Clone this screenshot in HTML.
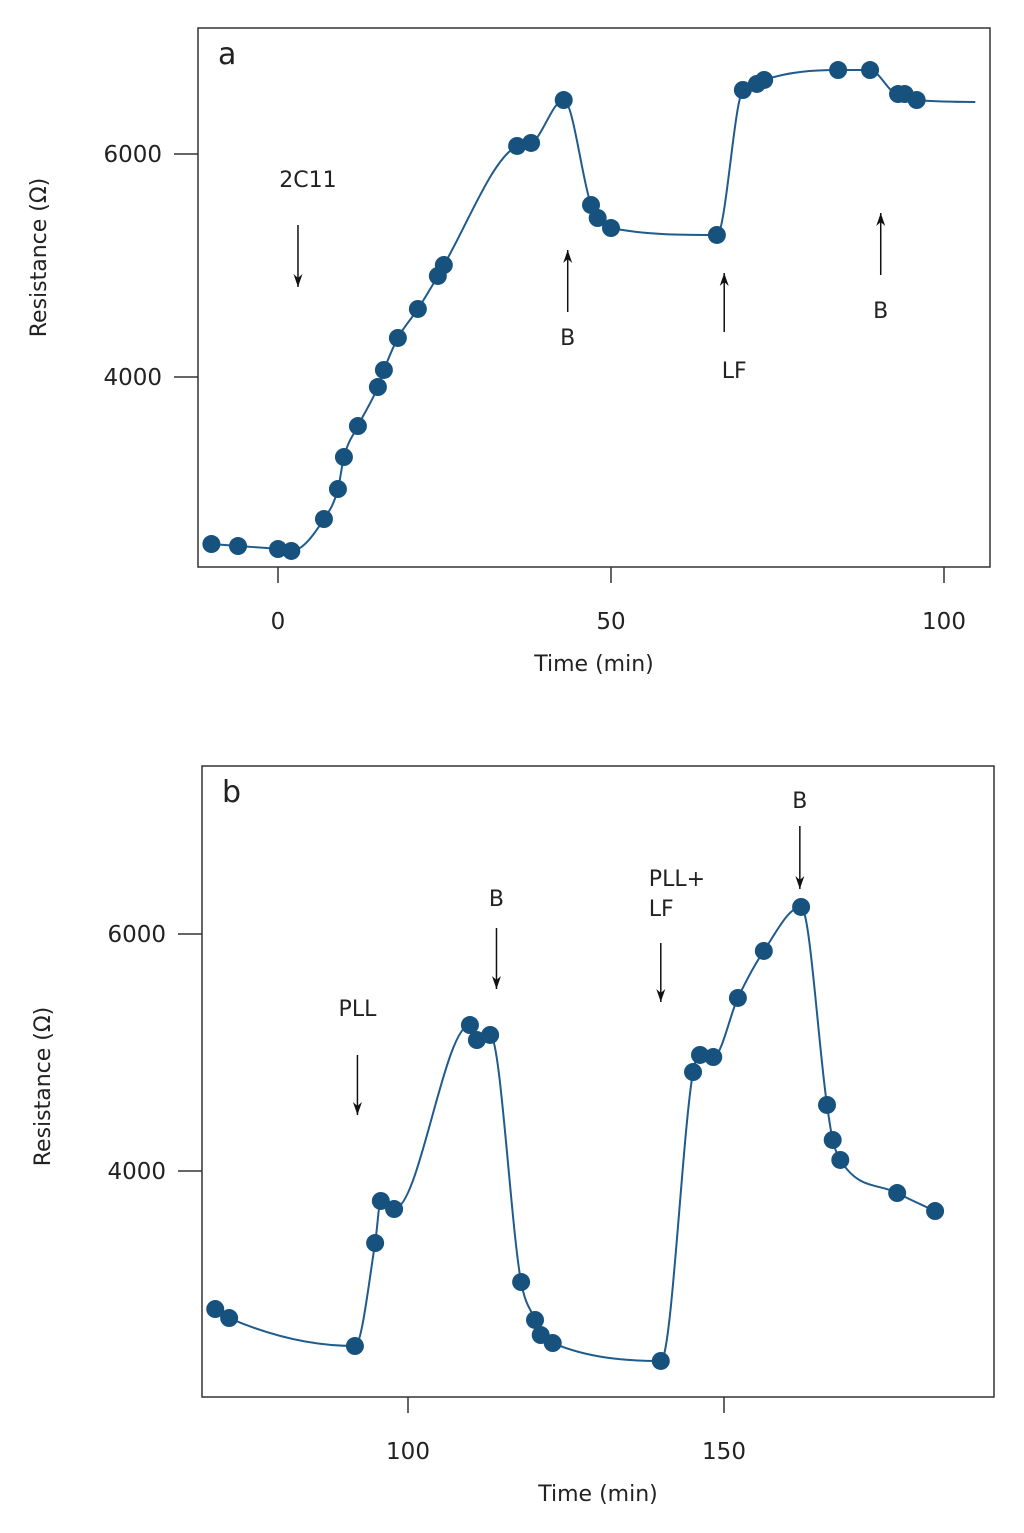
<!DOCTYPE html>
<html><head><meta charset="utf-8"><style>
body{margin:0;background:#fff;}
svg{display:block;font-family:"DejaVu Sans","Liberation Sans",sans-serif;}
</style></head><body>
<svg id="chart" width="1024" height="1533">
</svg>
<script>
const tA=[-10,-6,0,2,6.9,9,9.9,12,15,15.9,18,21,24,24.9,35.9,38,42.9,47,48,50,65.9,69.8,71.9,73,84.1,88.9,93.1,94.1,95.9];
const rA=[2502,2484,2457,2440,2726,2995,3282,3560,3910,4063,4350,4610,4906,5004,6072,6099,6484,5543,5426,5336,5274,6574,6628,6664,6753,6753,6538,6538,6484];
const tailA=[104.7,6466];
const tB=[69.5,71.7,91.6,94.8,95.7,97.8,109.8,110.9,113,117.9,120.1,121,122.9,140,145.1,146.2,148.3,152.2,156.3,162.2,166.3,167.2,168.4,177.4,183.4];
const rB=[2835,2759,2523,3392,3747,3679,5232,5105,5148,3063,2743,2616,2548,2397,4835,4979,4962,5460,5857,6228,4557,4262,4093,3814,3662];
const xticksA=[0,50,100], xticksB=[100,150], yticks=[4000,6000];
const annA=[["2C11",3,"down"],["B",43.5,"up"],["LF",67,"up"],["B",90.5,"up"]];
const annB=[["PLL",92,"down"],["B",114,"down"],["PLL+\nLF",140,"down"],["B",162,"down"]];

const svg=document.getElementById('chart');
const NS='http://www.w3.org/2000/svg';
function mk(tag,attrs,parent){const e=document.createElementNS(NS,tag);for(const k in attrs)e.setAttribute(k,attrs[k]);(parent||svg).appendChild(e);return e;}
function txt(s,x,y,size,anchor,parent){const e=mk('text',{x:x,y:y,'font-size':size,'text-anchor':anchor||'middle',fill:'#222'},parent);e.textContent=s;return e;}
function monotonePath(p){
 const n=p.length,d=[],m=new Array(n);
 for(let i=0;i<n-1;i++)d.push((p[i+1][1]-p[i][1])/(p[i+1][0]-p[i][0]));
 m[0]=d[0];m[n-1]=d[n-2];
 for(let i=1;i<n-1;i++){m[i]=(d[i-1]*d[i]<=0)?0:(d[i-1]+d[i])/2;}
 for(let i=0;i<n-1;i++){if(d[i]===0){m[i]=0;m[i+1]=0;continue;}const a=m[i]/d[i],b=m[i+1]/d[i],s=a*a+b*b;if(s>9){const t=3/Math.sqrt(s);m[i]=t*a*d[i];m[i+1]=t*b*d[i];}}
 let s='M'+p[0][0]+','+p[0][1];
 for(let i=0;i<n-1;i++){const h=(p[i+1][0]-p[i][0])/3;
  s+=` C${p[i][0]+h},${p[i][1]+m[i]*h} ${p[i+1][0]-h},${p[i+1][1]-m[i+1]*h} ${p[i+1][0]},${p[i+1][1]}`;}
 return s;}

function panel(cfg){
 const g=mk('g',{});
 
 
 const X=t=>cfg.x0+(t-cfg.t0)*cfg.sx, Y=v=>cfg.y0-(v-cfg.v0)*cfg.sy;
 const fr=mk('rect',{x:cfg.box[0],y:cfg.box[1],width:cfg.box[2]-cfg.box[0],height:cfg.box[3]-cfg.box[1],fill:'none',stroke:'#333','stroke-width':1.5},g);
 
 cfg.xt.forEach(t=>{const l=mk('line',{x1:X(t),x2:X(t),y1:cfg.box[3],y2:cfg.box[3]+16,stroke:'#333','stroke-width':1.5},g);
  
  const tx=txt(String(t),X(t),cfg.box[3]+62,23,'middle',g);});
 yticks.forEach(v=>{const l=mk('line',{x1:cfg.box[0]-24,x2:cfg.box[0],y1:Y(v),y2:Y(v),stroke:'#333','stroke-width':1.5},g);
  
  const tx=txt(String(v),cfg.box[0]-36,Y(v)+8,23,'end',g);});
 const xl=txt('Time (min)',(cfg.box[0]+cfg.box[2])/2,cfg.box[3]+104,22,'middle',g);
 const yc=(cfg.box[1]+cfg.box[3])/2+ (cfg.ylOff||0);
 const yl=txt('Resistance (Ω)',0,0,22,'middle',g);yl.setAttribute('transform',`translate(${cfg.box[0]-152},${yc}) rotate(-90)`);
 
 const pl=txt(cfg.label,cfg.box[0]+20,cfg.box[1]+36,30,'start',g);
 const pts=cfg.t.map((t,i)=>[X(t),Y(cfg.r[i])]);
 if(cfg.tail)pts.push([X(cfg.tail[0]),Y(cfg.tail[1])]);
 const ln=mk('path',{d:monotonePath(pts),fill:'none',stroke:'#1f5b8c','stroke-width':2},g);
 
 cfg.t.forEach((t,i)=>{const c=mk('circle',{cx:X(t),cy:Y(cfg.r[i]),r:9,fill:'#17527f'},g);
  });
 cfg.ann.forEach((a,i)=>{const pos=cfg.annPos[i];const x=X(a[1]);
  const ar=mk('line',{x1:x,x2:x,y1:pos.a1,y2:pos.a2,stroke:'#111','stroke-width':1.5},g);
  
  const dir=pos.a2>pos.a1?1:-1,tip=pos.a2;
  const hd=mk('polygon',{points:`${x},${tip} ${x-4.5},${tip-dir*13} ${x},${tip-dir*9} ${x+4.5},${tip-dir*13}`,fill:'#111'},g);
  
  a[0].split('\n').forEach((s,j)=>{const tx=txt(s,x+(pos.dx||0),pos.ty+j*30,22,pos.anchor||'middle',g);
   });});
}
panel({name:'panel-a',label:'a',box:[198,28,990,567],x0:278,t0:0,sx:6.66,y0:154,v0:6000,sy:0.11150,xt:xticksA,t:tA,r:rA,tail:tailA,ann:annA,ylOff:-40,
 annPos:[{a1:225,a2:287,ty:187,dx:10},{a1:312,a2:250,ty:345},{a1:332,a2:273,ty:378,dx:10},{a1:275,a2:213,ty:318}]});
panel({name:'panel-b',label:'b',box:[202,766,994,1397],x0:408,t0:100,sx:6.32,y0:934,v0:6000,sy:0.11850,xt:xticksB,t:tB,r:rB,ann:annB,ylOff:5,
 annPos:[{a1:1055,a2:1115,ty:1016},{a1:928,a2:989,ty:906},{a1:943,a2:1002,ty:886,anchor:'start',dx:-12},{a1:826,a2:889,ty:808}]});
</script>
</body></html>
